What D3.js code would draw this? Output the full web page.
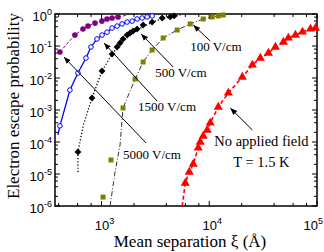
<!DOCTYPE html>
<html>
<head>
<meta charset="utf-8">
<script src="https://cdn.jsdelivr.net/npm/d3@7"></script>
<style>
  body { margin: 0; background: #fff; }
  text { font-family: "Liberation Serif", "Times New Roman", serif; }
  .tick-label { font-family: "Liberation Sans", Arial, sans-serif; }
</style>
</head>
<body>
<svg id="chart" width="324" height="252"></svg>
<script>
// 100 V/cm (purple filled circles, dashed)
const sep100  = [411, 566, 673, 749, 870, 1010, 1125, 1253, 1423];
const prob100 = [0.065, 0.221, 0.34, 0.42, 0.52, 0.60, 0.70, 0.75, 0.81];
const fit100x = [411, 566, 673, 749, 870, 1010, 1125, 1253, 1423, 1770];
const fit100y = [0.065, 0.221, 0.34, 0.42, 0.52, 0.60, 0.70, 0.75, 0.81, 0.93];

// 500 V/cm (blue open circles, solid)
const sep500  = [411, 509, 604, 717, 798, 908, 1011, 1125, 1253, 1394, 1551, 1727, 1922, 2139, 2381, 2650, 2950];
const prob500 = [3.2e-4, 0.0042, 0.0143, 0.042, 0.093, 0.166, 0.22, 0.27, 0.365, 0.42, 0.49, 0.56, 0.60, 0.70, 0.75, 0.81, 0.87];
const fit500x = [394].concat(sep500);
const fit500y = [1.66e-4].concat(prob500);

// 1500 V/cm (black diamonds, dotted)
const sep1500  = [604, 816, 1011, 1253, 1394, 1486, 1584, 1727, 1841, 1963, 2139, 2432, 2950, 3655, 4338, 4722];
const prob1500 = [4.9e-5, 0.00237, 0.0166, 0.056, 0.093, 0.124, 0.166, 0.22, 0.255, 0.294, 0.34, 0.453, 0.56, 0.75, 0.81, 0.87];
const fit1500x = [604, 604, 680, 816, 1011, 1253, 1584, 2139, 2950, 3655, 4722, 5400];
const fit1500y = [1.15e-5, 4.9e-5, 3.5e-4, 0.00237, 0.0166, 0.056, 0.15, 0.32, 0.55, 0.72, 0.86, 0.93];

// 5000 V/cm (olive squares, dash-dot)
const sep5000  = [1033, 1225, 1584, 2050, 2432, 2950, 3734, 5035, 6653, 8791, 10660, 12130, 13490];
const prob5000 = [1.9e-6, 2.74e-5, 0.00116, 0.0093, 0.0316, 0.075, 0.178, 0.316, 0.49, 0.70, 0.81, 0.87, 0.93];
const fit5000x = [1200, 1336, 1486, 1584, 2050, 2432, 2950, 3734, 5035, 6653, 8791, 10660, 12130, 13490];
const fit5000y = [1e-6, 1.15e-5, 8.1e-5, 0.00116, 0.0093, 0.0316, 0.075, 0.178, 0.316, 0.49, 0.70, 0.81, 0.87, 0.93];

// No applied field, T = 1.5 K (red triangles, dashed)
const sepNo  = [5986, 6520, 7100, 7900, 8240, 8790, 9580, 10210, 12130, 15030, 20280, 25130, 29800, 35380, 41100, 48790, 54300, 63070, 73300, 87000, 96900];
const probNo = [5.2e-6, 1.15e-5, 2.05e-5, 6.5e-5, 1e-4, 1.54e-4, 2.37e-4, 3.93e-4, 0.00124, 0.0034, 0.0107, 0.0255, 0.042, 0.060, 0.093, 0.133, 0.178, 0.22, 0.274, 0.34, 0.365];
const fitNox = [5610].concat(sepNo);
const fitNoy = [1e-6].concat(probNo);

const xMajor = [1e3, 1e4, 1e5];
const xExp = ["3", "4", "5"];
const yMajor = [1, 1e-1, 1e-2, 1e-3, 1e-4, 1e-5, 1e-6];
const yExp = ["0", "-1", "-2", "-3", "-4", "-5", "-6"];

// annotations: [label, textX, textY, arrowFromX, arrowFromY, arrowToX, arrowToY]
const notes = [
  ["100 V/cm", 6650, 0.07, 10200, 0.143, 7100, 0.453],
  ["500 V/cm", 3150, 0.0107, 4630, 0.022, 2330, 0.237],
  ["1500 V/cm", 2186, 9.3e-4, 3280, 0.0019, 1055, 0.124],
  ["5000 V/cm", 1585, 2.95e-5, 2593, 9.3e-5, 448, 0.0453],
  ["", 0, 0, 25130, 2.37e-4, 15680, 0.00115]
];

const margin = { top: 14, right: 7, bottom: 46, left: 55 };
const W = 324, H = 252;

const svg = d3.select("#chart");

const x = d3.scaleLog().domain([370, 1e5]).range([margin.left, W - margin.right]);
const y = d3.scaleLog().domain([1e-6, 1]).range([H - margin.bottom, margin.top]);

const x0 = margin.left, x1 = W - margin.right, y0 = H - margin.bottom, y1 = margin.top;

// minor ticks
const xMinor = [];
[100, 1000, 10000].forEach(d => [2, 4, 6, 8].forEach(m => { const v = d * m; if (v > 370 && v < 1e5) xMinor.push(v); }));
const yMinor = [];
[1e-6, 1e-5, 1e-4, 1e-3, 1e-2, 1e-1].forEach(d => [2, 4, 6, 8].forEach(m => yMinor.push(d * m)));

const ticks = svg.append("g").attr("stroke", "#000").attr("stroke-width", 1);
xMajor.concat(xMinor).forEach(v => {
  const len = xMajor.includes(v) ? 5 : 3;
  ticks.append("line").attr("x1", x(v)).attr("x2", x(v)).attr("y1", y0).attr("y2", y0 - len);
  ticks.append("line").attr("x1", x(v)).attr("x2", x(v)).attr("y1", y1).attr("y2", y1 + len);
});
yMajor.concat(yMinor).forEach(v => {
  const len = yMajor.includes(v) ? 5 : 3;
  ticks.append("line").attr("y1", y(v)).attr("y2", y(v)).attr("x1", x0).attr("x2", x0 + len);
  ticks.append("line").attr("y1", y(v)).attr("y2", y(v)).attr("x1", x1).attr("x2", x1 - len);
});

// frame
svg.append("rect")
  .attr("x", x0).attr("y", y1)
  .attr("width", x1 - x0).attr("height", y0 - y1)
  .attr("fill", "none").attr("stroke", "#000").attr("stroke-width", 1.5);

// tick labels
xMajor.forEach((v, i) => {
  const last = i === xMajor.length - 1;
  const t = svg.append("text").attr("class", "tick-label")
    .attr("x", last ? W - 1 : x(v) + 3).attr("y", y0 + 24)
    .attr("text-anchor", last ? "end" : "middle").attr("font-size", 13);
  t.append("tspan").text("10");
  t.append("tspan").attr("dy", -6).attr("font-size", 9).text(xExp[i]);
});
yMajor.forEach((v, i) => {
  const t = svg.append("text").attr("class", "tick-label")
    .attr("x", 52).attr("y", y(v) + 7)
    .attr("text-anchor", "end").attr("font-size", 13);
  t.append("tspan").text("10");
  t.append("tspan").attr("dy", -6).attr("font-size", 9).text(yExp[i]);
});

// axis titles
svg.append("text")
  .attr("transform", "translate(19,106) rotate(-90)")
  .attr("text-anchor", "middle").attr("font-size", 17)
  .text("Electron escape probability");
svg.append("text")
  .attr("x", 190).attr("y", 247)
  .attr("text-anchor", "middle").attr("font-size", 17)
  .text("Mean separation ξ (Å)");

const line = d3.line().x(d => x(d[0])).y(d => y(d[1]));
const zip = (a, b) => a.map((v, i) => [v, b[i]]);

const plot = svg.append("g");

function drawLine(xs, ys, color, dash, w) {
  plot.append("path").datum(zip(xs, ys))
    .attr("d", line).attr("fill", "none")
    .attr("stroke", color).attr("stroke-width", w)
    .attr("stroke-dasharray", dash);
}

drawLine(fit100x, fit100y, "#800080", "3,2", 1);
drawLine(fit500x, fit500y, "#0000ff", null, 1.3);
drawLine(fit1500x, fit1500y, "#000", "1.2,2", 1.3);
drawLine(fit5000x, fit5000y, "#333", "5,2,1,2", 1);
drawLine(fitNox, fitNoy, "#ff0000", "4,2.5", 1.6);

// markers
plot.selectAll(".p100").data(zip(sep100, prob100)).enter().append("circle")
  .attr("cx", d => x(d[0])).attr("cy", d => y(d[1])).attr("r", 2.8)
  .attr("fill", "#800080");

plot.selectAll(".p500").data(zip(sep500, prob500)).enter().append("circle")
  .attr("cx", d => x(d[0])).attr("cy", d => y(d[1])).attr("r", 2.3)
  .attr("fill", "#fff").attr("stroke", "#0000ff").attr("stroke-width", 1);

const diamond = d3.symbol().type(d3.symbolDiamond2).size(30);
plot.selectAll(".p1500").data(zip(sep1500, prob1500)).enter().append("path")
  .attr("d", diamond)
  .attr("transform", d => `translate(${x(d[0])},${y(d[1])})`)
  .attr("fill", "#000");

plot.selectAll(".p5000").data(zip(sep5000, prob5000)).enter().append("rect")
  .attr("x", d => x(d[0]) - 2.5).attr("y", d => y(d[1]) - 2.5)
  .attr("width", 5).attr("height", 5)
  .attr("fill", "#808000");

const tri = d3.symbol().type(d3.symbolTriangle).size(36);
plot.selectAll(".pNo").data(zip(sepNo, probNo)).enter().append("path")
  .attr("d", tri)
  .attr("transform", d => `translate(${x(d[0])},${y(d[1])})`)
  .attr("fill", "#ff0000");

// arrows
svg.append("defs").append("marker")
  .attr("id", "arrow").attr("viewBox", "0 0 10 10")
  .attr("refX", 10).attr("refY", 5)
  .attr("markerWidth", 7).attr("markerHeight", 7)
  .attr("markerUnits", "userSpaceOnUse")
  .attr("orient", "auto")
  .append("path").attr("d", "M0,1 L10,5 L0,9 Z").attr("fill", "#000");

notes.forEach(n => {
  svg.append("line")
    .attr("x1", x(n[3])).attr("y1", y(n[4]))
    .attr("x2", x(n[5])).attr("y2", y(n[6]))
    .attr("stroke", "#000").attr("stroke-width", 1)
    .attr("marker-end", "url(#arrow)");
  if (n[0]) {
    svg.append("text").attr("x", x(n[1])).attr("y", y(n[2]))
      .attr("font-size", 13).text(n[0]);
  }
});

svg.append("text").attr("x", x(30500)).attr("y", y(7.5e-5))
  .attr("text-anchor", "middle").attr("font-size", 14.5).text("No applied field");
svg.append("text").attr("x", x(30500)).attr("y", y(1.66e-5))
  .attr("text-anchor", "middle").attr("font-size", 14.5).text("T = 1.5 K");
</script>
</body>
</html>
